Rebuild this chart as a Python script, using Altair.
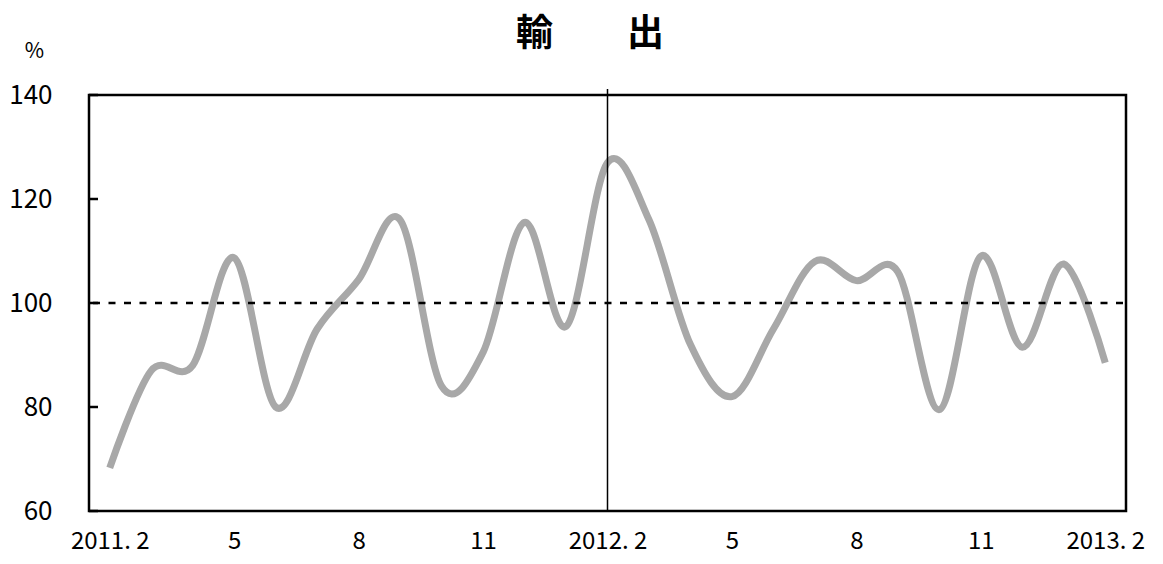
import json
import altair as alt
import pandas as pd

# ---- data ----
month_index = list(range(25))  # 2011.2 ... 2013.2 (monthly)
values = [68.3, 87.0, 88.0, 108.7, 80.0, 95.0, 104.5, 116.0, 84.0, 90.5,
          115.5, 95.5, 127.0, 116.0, 92.0, 82.0, 95.0, 108.0, 104.3, 106.0,
          79.5, 109.0, 91.5, 107.5, 88.5]
tick_positions = [0, 3, 6, 9, 12, 15, 18, 21, 24]
tick_labels = ["2011. 2", "5", "8", "11", "2012. 2", "5", "8", "11", "2013. 2"]
y_ticks = [60, 80, 100, 120, 140]
reference_level = [100]
break_month = [12]
title_text = ["輸　　出"]

FONT = "Noto Sans CJK JP"
W, H = 1037, 416

df = pd.DataFrame({"m": month_index, "v": values})
df_ref = pd.DataFrame({"v": reference_level})
df_break = pd.DataFrame({"m": break_month})
df_ticks = pd.DataFrame({"v": y_ticks})
df_title = pd.DataFrame({"t": title_text})

label_expr = json.dumps(tick_labels, ensure_ascii=False) + "[round(datum.value / 3)]"

x_scale = alt.Scale(domain=[-0.5, 24.5], nice=False, zero=False)
y_scale = alt.Scale(domain=[60, 140], nice=False, zero=False)

x_enc = alt.X("m:Q", scale=x_scale,
              axis=alt.Axis(values=tick_positions, labelExpr=label_expr, title=None,
                            ticks=False, tickSize=0, domain=False, grid=False,
                            labelFont=FONT, labelFontSize=24, labelColor="black",
                            labelPadding=18, labelFlush=False))
y_enc = alt.Y("v:Q", scale=y_scale,
              axis=alt.Axis(values=y_ticks, title="%", titleAngle=0, titleX=-55, titleY=-44,
                            titleAlign="center", titleBaseline="middle",
                            titleFont=FONT, titleFontSize=21, titleFontWeight="normal",
                            titleColor="black",
                            ticks=False, tickSize=0, domain=False, grid=False,
                            labelFont=FONT, labelFontSize=26, labelColor="black",
                            labelPadding=37, labelFlush=False))

line = alt.Chart(df).mark_line(interpolate="cardinal", tension=0, color="#a8a8a8",
                               strokeWidth=7).encode(x=x_enc, y=y_enc)

ref = alt.Chart(df_ref).mark_rule(color="black", strokeWidth=2.5, strokeDash=[7, 8.5]).encode(
    y=alt.Y("v:Q", scale=y_scale), x=alt.value(4), x2=alt.value(W))

brk = alt.Chart(df_break).mark_rule(color="black", strokeWidth=1.5).encode(
    x=alt.X("m:Q", scale=x_scale), y=alt.value(-6), y2=alt.value(H))

ticks = alt.Chart(df_ticks).mark_rule(color="black", strokeWidth=2.5).encode(
    y=alt.Y("v:Q", scale=y_scale), x=alt.value(0), x2=alt.value(9))

title = alt.Chart(df_title).mark_text(font=FONT, fontSize=37, fontWeight="bold",
                                      color="black", align="center", baseline="middle").encode(
    text="t:N", x=alt.value(501), y=alt.value(-60))

chart = alt.layer(line, ref, brk, ticks, title).properties(
    width=W, height=H,
    autosize="none",
    padding={"left": 81, "top": 87, "right": 29, "bottom": 45},
).configure(background="white",
            view=alt.ViewConfig(stroke="black", strokeWidth=2.5))

chart.save("out.html", embed_options={"renderer": "svg", "actions": False})
